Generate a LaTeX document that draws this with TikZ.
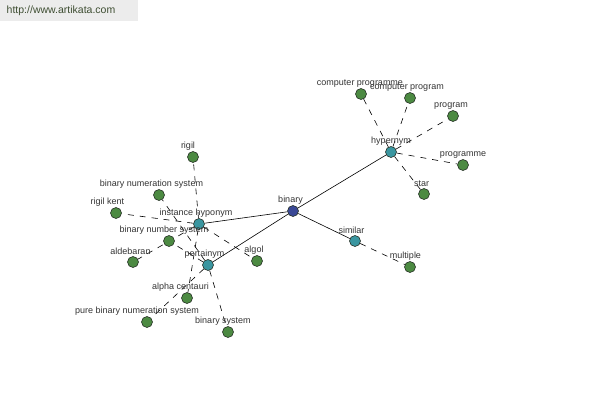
\documentclass[tikz,border=0pt]{standalone}
\usepackage{fontspec}
\setmainfont{Liberation Sans}
\usetikzlibrary{backgrounds}
\definecolor{hubblue}{RGB}{58,72,150}
\definecolor{relteal}{RGB}{58,150,160}
\definecolor{leafgreen}{RGB}{76,138,66}
\definecolor{rim}{RGB}{40,50,40}
\definecolor{urlgray}{RGB}{236,236,236}
\definecolor{urltext}{RGB}{62,78,50}
\tikzset{
  dot/.style={circle, draw=rim, line width=0.6pt, minimum size=11pt, inner sep=0pt},
  hub/.style={dot, fill=hubblue},
  rel/.style={dot, fill=relteal},
  leaf/.style={dot, fill=leafgreen},
  lbl/.style={font=\fontsize{9}{10}\selectfont, text=black!80, inner sep=1pt},
  link/.style={black, line width=0.6pt},
  weak/.style={link, dash pattern=on 6pt off 6pt},
}
\begin{document}
\begin{tikzpicture}[x=1pt, y=-1pt]
    \useasboundingbox (0,0) rectangle (600,400);
    % 网址标签
    \fill[urlgray] (0,0) rectangle (138,21);
    \node[font=\fontsize{10.5}{12}\selectfont, text=urltext, inner sep=0pt] (url) at (61,11) {http://www.artikata.com};

    % 中心词和关系节点
    \node[hub, label={[lbl, xshift=-2.5pt]above:binary}] (binary) at (293,211) {};
    \node[rel, label={[lbl]above:hypernym}] (hypernym) at (391,152) {};
    \node[rel, label={[lbl, xshift=-3.5pt]above:similar}] (similar) at (355,241) {};
    \node[rel, label={[lbl, xshift=-3pt]above:instance hyponym}] (insthyp) at (199,224) {};
    \node[rel, label={[lbl, xshift=-3.5pt]above:pertainym}] (pertainym) at (208,265) {};

    % 叶子节点 (名字/x/y/文字偏移/文字)
    \foreach \n/\x/\y/\d/\t in {
        cprogramme/361/94/-1/computer programme,
        cprogram/410/98/-3/computer program,
        program/453/116/-2/program,
        programme/463/165/0/programme,
        star/424/194/-2.5/star,
        multiple/410/267/-4.5/multiple,
        rigil/193/157/-5/rigil,
        binnumsys/159/195/-7.5/binary numeration system,
        rigilkent/116/213/-8.5/rigil kent,
        binnumbersys/169/241/-5/binary number system,
        aldebaran/133/262/-2.5/aldebaran,
        algol/257/261/-3/algol,
        alphacen/187/298/-6.5/alpha centauri,
        purebin/147/322/-10/pure binary numeration system,
        binsys/228/332/-5/binary system} {
        \node[leaf, label={[lbl, xshift=\d pt]above:\t}] (\n) at (\x,\y) {};
    }

    % 连线
    \begin{pgfonlayer}{background}
        \foreach \r in {hypernym, similar, insthyp, pertainym}
            \draw[link] (binary) -- (\r);
        \foreach \a/\b in {hypernym/cprogramme, hypernym/cprogram, hypernym/program,
                hypernym/programme, hypernym/star, similar/multiple,
                insthyp/rigil, insthyp/rigilkent, insthyp/aldebaran, insthyp/algol,
                insthyp/alphacen, pertainym/binnumsys, pertainym/binnumbersys,
                pertainym/purebin, pertainym/binsys}
            \draw[weak] (\a) -- (\b);
    \end{pgfonlayer}
\end{tikzpicture}
\end{document}
